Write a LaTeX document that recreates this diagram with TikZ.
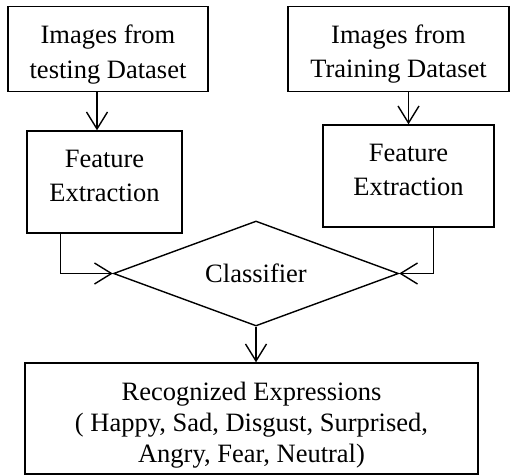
\documentclass[tikz,border=0pt]{standalone}
\usepackage{fontspec}
\setmainfont{Liberation Serif}
\usetikzlibrary{arrows.meta,shapes.geometric}
\tikzset{
  box/.style={draw, line width=1.4pt, rectangle, align=center, inner sep=0pt,
    font=\fontsize{26.5}{34}\selectfont},
  dia/.style={draw, line width=1.4pt, diamond, inner sep=0pt, aspect=2.7,
    font=\fontsize{26.5}{34}\selectfont},
  arr/.style={line width=1.4pt, -{Straight Barb[length=17pt,width=21pt,line width=1.4pt]}},
}
\begin{document}
\begin{tikzpicture}[x=1pt,y=1pt]
\useasboundingbox (0,0) rectangle (510,475);
\node[box, minimum width=200pt, minimum height=85pt, text height=64pt, text depth=6pt] (b1) at (108,426) {Images from\\testing Dataset};
\node[box, minimum width=221pt, minimum height=85pt, text height=63pt, text depth=6pt] (b2) at (398.5,426) {Images from\\Training Dataset};
\node[box, minimum width=155pt, minimum height=102pt, text height=38pt, text depth=0pt] (fe1) at (104.5,293) {Feature\\Extraction};
\node[box, minimum width=171pt, minimum height=102pt, text height=38pt, text depth=0pt] (fe2) at (408.5,299) {Feature\\Extraction};
\node[dia, minimum width=285pt, minimum height=105pt] (cls) at (256,201.5) {Classifier};
\node[box, minimum width=453pt, minimum height=111pt, font=\fontsize{26.5}{31}\selectfont, text height=94.4pt, text depth=6pt] (out) at (251.5,56.5)
  {Recognized Expressions\\( Happy, Sad, Disgust, Surprised,\\Angry, Fear, Neutral)};
\draw[arr] ([xshift=-11pt]b1.south) -- ([xshift=-11pt]b1.south |- fe1.north);
\draw[arr] (fe2.north |- b2.south) -- (fe2.north);
\draw[arr] ([xshift=34pt]fe1.south west) |- (cls.west);
\draw[arr] ([xshift=-61pt]fe2.south east) |- (cls.east);
\draw[arr] (cls.south) -- (cls.south |- out.north);
\end{tikzpicture}
\end{document}
